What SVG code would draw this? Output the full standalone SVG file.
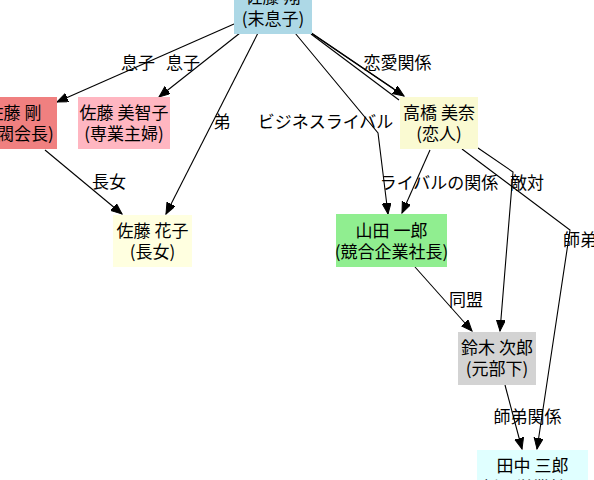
<svg xmlns="http://www.w3.org/2000/svg" width="594" height="480" viewBox="0 0 594 480">
<defs>
<style>
text{font-family:"Noto Sans CJK JP","Noto Sans",sans-serif;font-size:17px;fill:#000;text-anchor:middle}
.e{fill:none;stroke:#000;stroke-width:1.1}
.a{marker-end:url(#arr)}
</style>
<marker id="arr" markerUnits="userSpaceOnUse" markerWidth="13" markerHeight="10" refX="11" refY="4.5" orient="auto"><path d="M0,0 L11,4.5 L0,9 z" fill="#000" stroke="#000" stroke-width="1"/></marker>
</defs>
<rect width="594" height="480" fill="#fff"/>
<g id="connectors">
<path class="e a" d="M234,24 L57,102"/>
<path class="e a" d="M240,33 L159,97"/>
<path class="e a" d="M258,33 L166,214"/>
<path class="e a" d="M45,150 L122,214"/>
<path class="e a" d="M295,33 L378,133 L388,214"/>
<path class="e a" d="M308,31 L404,96"/>
<path class="e" d="M310,32 L394,89"/>
<path class="e" d="M311,34 L399,100"/>
<path class="e a" d="M430,150 L402,213"/>
<path class="e a" d="M478,148 L513,172 L500,331"/>
<path class="e a" d="M462,149 L570,230 L537,449"/>
<path class="e a" d="M415,267 L472,331"/>
<path class="e a" d="M505,385 L522,449"/>
<text x="138" y="69">息子</text>
<text x="183" y="69">息子</text>
<text x="222" y="128">弟</text>
<text x="109" y="188">長女</text>
<text x="325.5" y="128">ビジネスライバル</text>
<text x="397.5" y="69">恋愛関係</text>
<text x="439" y="189">ライバルの関係</text>
<text x="527" y="189">敵対</text>
<text x="563" y="246" style="text-anchor:start">師弟関係</text>
<text x="466" y="306">同盟</text>
<text x="527.5" y="423">師弟関係</text>
</g>
<g id="n_top"><rect x="234" y="-18" width="78" height="52" fill="#ADD8E6"/><text x="273" y="3">佐藤 翔</text><text x="273" y="25">(末息子)</text></g>
<g id="n_takeshi"><rect x="-29" y="97" width="86" height="52" fill="#F08080"/><text x="14" y="119">佐藤 剛</text><text x="14" y="140">(財閥会長)</text></g>
<g id="n_michiko"><rect x="78" y="97" width="92" height="52" fill="#FFB6C1"/><text x="124" y="119">佐藤 美智子</text><text x="124" y="140">(専業主婦)</text></g>
<g id="n_hanako"><rect x="113" y="215" width="79" height="52" fill="#FFFFE0"/><text x="152.5" y="237">佐藤 花子</text><text x="152.5" y="258">(長女)</text></g>
<g id="n_takahashi"><rect x="400" y="97" width="78" height="52" fill="#FAFAD2"/><text x="439" y="119">高橋 美奈</text><text x="439" y="140">(恋人)</text></g>
<g id="n_yamada"><rect x="336" y="214" width="111" height="53" fill="#90EE90"/><text x="391.5" y="237">山田 一郎</text><text x="391.5" y="258">(競合企業社長)</text></g>
<g id="n_suzuki"><rect x="458" y="332" width="78" height="53" fill="#D3D3D3"/><text x="497" y="354">鈴木 次郎</text><text x="497" y="375">(元部下)</text></g>
<g id="n_tanaka"><rect x="477" y="450" width="111" height="52" fill="#E0FFFF"/><text x="532.5" y="472">田中 三郎</text><text x="532.5" y="494">(新人営業社員)</text></g>
</svg>
